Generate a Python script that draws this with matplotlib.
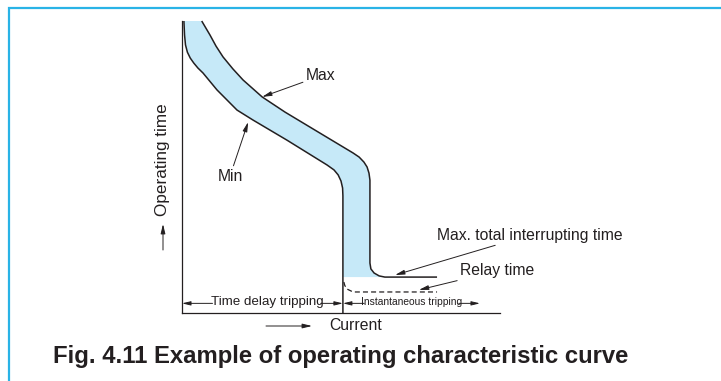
import matplotlib
matplotlib.use("Agg")
import matplotlib.pyplot as plt
from matplotlib.patches import Rectangle, FancyArrowPatch

plt.rcParams['font.family'] = ['Liberation Sans', 'DejaVu Sans']

# curves, in arbitrary units (current 0-100, time 0-100)
min_x = [0.6, 0.8, 1.1, 1.7, 2.6, 3.7, 5.0, 6.6, 11.0, 17.3, 19.8, 22.3, 33.0, 45.6, 47.8, 49.1, 50.0, 50.5, 50.6, 50.6]
min_y = [100, 95.2, 91.8, 89.3, 87.3, 85.6, 83.9, 82.2, 76.4, 69.5, 67.8, 66.1, 59.2, 50.7, 49.0, 47.3, 45.2, 42.8, 40.1, 0]

max_x = [6.2, 7.5, 8.8, 10.7, 12.9, 16.0, 19.2, 25.2, 32.4, 43.4, 53.8, 55.7, 57.2, 58.2, 58.8, 59.1, 59.1, 59.4, 60.4, 62.0, 63.8, 80.2]
max_y = [100, 97.6, 95.2, 91.4, 87.7, 83.6, 79.8, 74.0, 68.8, 61.6, 54.8, 53.4, 51.7, 50.0, 47.9, 45.5, 17.1, 15.1, 13.7, 12.7, 12.3, 12.3]

relay_x = [50.9, 51.2, 51.9, 53.8, 80.2]
relay_y = [10.6, 9.4, 8.2, 7.2, 7.2]

fill_bottom = 12.3  # bottom edge of shaded band

line_c = '#231f20'
band_c = '#c6e9f8'
frame_c = '#29b3e6'

fig = plt.figure(figsize=(7.21, 3.81), dpi=100)
fig.patches.append(Rectangle((9 / 721, -0.1), 1.1, 1 - 8 / 381 + 0.1,
                             transform=fig.transFigure, fill=False,
                             edgecolor=frame_c, lw=1.6))

ax = fig.add_axes([182 / 721, 1 - 313 / 381, 318 / 721, 292 / 381])
ax.set_xlim(0, 100)
ax.set_ylim(0, 100)
for s in ['top', 'right']:
    ax.spines[s].set_visible(False)
for s in ['left', 'bottom']:
    ax.spines[s].set_linewidth(0.9)
    ax.spines[s].set_color(line_c)
ax.set_xticks([])
ax.set_yticks([])
ax.patch.set_alpha(0)

# shaded band between min and max
band_x = max_x[:-1] + [min_x[-2]] + min_x[-2::-1]
band_y = max_y[:-1] + [fill_bottom] + min_y[-2::-1]
ax.fill(band_x, band_y, color=band_c, lw=0, clip_on=False)

ax.plot(min_x, min_y, color=line_c, lw=1.1, clip_on=False, solid_capstyle='butt')
ax.plot(max_x, max_y, color=line_c, lw=1.1, clip_on=False, solid_capstyle='butt')
ax.plot(relay_x, relay_y, color=line_c, lw=0.9, ls=(0, (4, 2.5)), clip_on=False)

arr = dict(arrowstyle='-|>,head_length=0.5,head_width=0.12', lw=0.7, color=line_c,
           shrinkA=0, shrinkB=0)
fs = 11.3

ax.annotate('Max', xy=(25.2, 74.0), xytext=(38.9, 81.2), fontsize=fs,
            ha='left', va='center', arrowprops=arr, color=line_c)
ax.annotate('Min', xy=(20.8, 65.4), xytext=(15.1, 46.9), fontsize=fs,
            ha='center', va='center', arrowprops=arr, color=line_c)
ax.annotate('Max. total interrupting time', xy=(67.0, 13.0), xytext=(80.2, 26.7),
            fontsize=fs, ha='left', va='center', arrowprops=arr, color=line_c,
            annotation_clip=False)
ax.annotate('Relay time', xy=(74.5, 7.9), xytext=(87.4, 14.4), fontsize=fs,
            ha='left', va='center', arrowprops=arr, color=line_c,
            annotation_clip=False)

# tripping zones along the bottom
ax.text(26.7, 3.6, 'Time delay tripping', fontsize=9.6, ha='center', va='center',
        color=line_c)
ax.annotate('', xy=(0, 3.3), xytext=(9.6, 3.3), arrowprops=arr)
ax.annotate('', xy=(50.6, 3.3), xytext=(43.6, 3.3), arrowprops=arr)
ax.text(72.3, 3.6, 'Instantaneous tripping', fontsize=7.4, ha='center', va='center',
        color=line_c)
ax.annotate('', xy=(50.6, 3.3), xytext=(57.3, 3.3), arrowprops=arr)
ax.annotate('', xy=(93.7, 3.3), xytext=(87.0, 3.3), arrowprops=arr,
            annotation_clip=False)

# axis captions
fig.text(163 / 721, 1 - 160 / 381, 'Operating time', rotation=90, fontsize=12.3,
         ha='center', va='center', color=line_c)
fig.patches.append(FancyArrowPatch(
    (163 / 721, 1 - 250 / 381), (163 / 721, 1 - 224 / 381),
    transform=fig.transFigure, mutation_scale=11.3, **arr))
fig.text(356 / 721, 1 - 326 / 381, 'Current', fontsize=fs, ha='center', va='center',
         color=line_c)
fig.patches.append(FancyArrowPatch(
    (266 / 721, 1 - 326 / 381), (312 / 721, 1 - 326 / 381),
    transform=fig.transFigure, mutation_scale=11.3, **arr))

fig.text(53 / 721, 1 - 356 / 381, 'Fig. 4.11 Example of operating characteristic curve',
         fontsize=17.2, fontweight='bold', ha='left', va='center', color=line_c)

fig.savefig('out.png', dpi=100)
